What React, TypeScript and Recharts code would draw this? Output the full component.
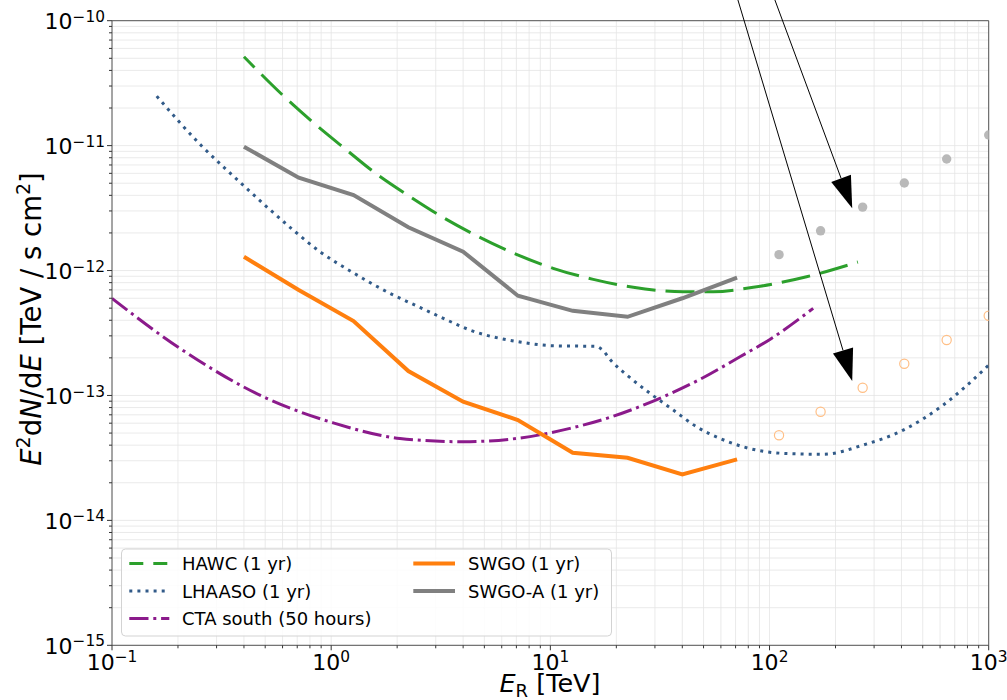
import React from 'react';
import { ComposedChart, Line, Scatter, XAxis, YAxis, CartesianGrid, ReferenceLine } from 'recharts';

// ---------- data ----------
const hawcE = [0.4, 0.6, 0.83, 1.16, 1.61, 2.29, 3.3, 4.77, 7.0, 10.3, 15.7, 23.9, 40.4, 55.3, 84.3, 147.6, 253];
const hawcF = [5.15e-11, 2.54e-11, 1.525e-11, 9.4e-12, 5.93e-12, 3.9e-12, 2.61e-12, 1.845e-12, 1.349e-12, 1.042e-12, 8.5e-13, 7.34e-13, 6.76e-13, 6.76e-13, 7.34e-13, 8.92e-13, 1.17e-12];

const lhaasoE = [0.16, 0.2006, 0.2566, 0.3277, 0.4, 0.508, 0.671, 0.889, 1.261, 1.854, 2.54, 3.37, 4.3, 7.26, 10.3, 16.2, 17.1, 19.0, 23.1, 28.5, 36.4, 46.5, 59.4, 75.9, 115.5, 175.8, 267.6, 407.4, 620, 1000];
const lhaasoF = [2.49e-11, 1.58e-11, 9.93e-12, 6.58e-12, 4.76e-12, 3.24e-12, 2.11e-12, 1.414e-12, 9.6e-13, 6.57e-13, 5.07e-13, 4.02e-13, 3.34e-13, 2.68e-13, 2.5e-13, 2.47e-13, 2.35e-13, 1.886e-13, 1.387e-13, 1.04e-13, 7.64e-14, 5.61e-14, 4.53e-14, 3.88e-14, 3.44e-14, 3.38e-14, 4.01e-14, 5.28e-14, 8.38e-14, 1.75e-13];

const ctaE = [0.1, 0.2043, 0.508, 1.022, 2.06, 4.0, 7.02, 12.29, 19.05, 29.5, 48.1, 73.3, 100.4, 158.2];
const ctaF = [5.99e-13, 2.38e-13, 9.48e-14, 6.04e-14, 4.53e-14, 4.26e-14, 4.53e-14, 5.45e-14, 6.75e-14, 9.02e-14, 1.345e-13, 2.04e-13, 2.81e-13, 4.98e-13];

const swgoE = [0.4, 0.711, 1.265, 2.249, 4.0, 7.11, 12.65, 22.5, 40.0, 71.1];
const swgoF = [1.29e-12, 6.98e-13, 3.94e-13, 1.568e-13, 8.91e-14, 6.36e-14, 3.48e-14, 3.17e-14, 2.33e-14, 3.08e-14];
const swgoAF = [9.8e-12, 5.53e-12, 4.02e-12, 2.22e-12, 1.416e-12, 6.29e-13, 4.76e-13, 4.26e-13, 6.0e-13, 8.76e-13];

const pointE = [110.5, 171, 266, 412, 643, 1000];
const greyPointF = [1.34e-12, 2.08e-12, 3.22e-12, 5.02e-12, 7.81e-12, 1.216e-11];
const orangePointF = [4.8e-14, 7.41e-14, 1.153e-13, 1.795e-13, 2.78e-13, 4.35e-13];

// arrows: [startE, startF, tipE, tipF]
const arrowUpper = [105.8, 1.465e-10, 238.4, 3.15e-12];
const arrowLower = [71.75, 1.465e-10, 238.4, 1.304e-13];

const xMajor = [0.1, 1, 10, 100, 1000];
const yMajor = [1e-15, 1e-14, 1e-13, 1e-12, 1e-11, 1e-10];
const minorMult = [2, 3, 4, 5, 6, 7, 8, 9];

const legendLeft = ['HAWC (1 yr)', 'LHAASO (1 yr)', 'CTA south (50 hours)'];
const legendRight = ['SWGO (1 yr)', 'SWGO-A (1 yr)'];

// ---------- helpers ----------
const zip = (es: number[], fs: number[]) => es.map((e, i) => ({ e, f: fs[i] }));
const withMinor = (majors: number[]) => {
  const out: number[] = [];
  majors.forEach((m, i) => {
    out.push(m);
    if (i < majors.length - 1) minorMult.forEach((k) => out.push(m * k));
  });
  return out;
};
const xTicks = withMinor(xMajor);
const yTicks = withMinor(yMajor);
const isMajor = (v: number) => {
  const l = Math.log10(v);
  return Math.abs(l - Math.round(l)) < 1e-6;
};
const expText = (v: number) => {
  const n = Math.round(Math.log10(v));
  return n < 0 ? '\u2212' + Math.abs(n) : String(n);
};

const FONT = "'DejaVu Sans', sans-serif";
const TICK_COLOR = '#333';
const SPINE = '#555';

const XTick = (p: any) => {
  const { x, y, payload } = p;
  const v = payload.value;
  const maj = isMajor(v);
  return (
    <g>
      <line x1={x} y1={y} x2={x} y2={y + (maj ? 5 : 3)} stroke={TICK_COLOR} strokeWidth={1} />
      {maj && (
        <text x={x} y={y + 25} textAnchor="middle" fontFamily={FONT} fontSize={22} fill="#000">
          10<tspan dy={-8.5} fontSize={15.4}>{expText(v)}</tspan>
        </text>
      )}
    </g>
  );
};

const YTick = (p: any) => {
  const { x, y, payload } = p;
  const v = payload.value;
  const maj = isMajor(v);
  return (
    <g>
      <line x1={x} y1={y} x2={x - (maj ? 5 : 3)} y2={y} stroke={TICK_COLOR} strokeWidth={1} />
      {maj && (
        <text x={x - 7} y={y + 8.6} textAnchor="end" fontFamily={FONT} fontSize={22} fill="#000">
          10<tspan dy={-7.5} fontSize={15.4}>{expText(v)}</tspan>
        </text>
      )}
    </g>
  );
};

const arrowShape = (p: any) => {
  const { x1, y1, x2, y2 } = p;
  const dx = x2 - x1;
  const dy = y2 - y1;
  const L = Math.hypot(dx, dy) || 1;
  const ux = dx / L;
  const uy = dy / L;
  const hl = 32;
  const hw = 10.5;
  const bx = x2 - ux * hl;
  const by = y2 - uy * hl;
  const px = -uy;
  const py = ux;
  return (
    <g>
      <line x1={x1} y1={y1} x2={bx} y2={by} stroke="#000" strokeWidth={1} />
      <polygon
        points={`${x2},${y2} ${bx + px * hw},${by + py * hw} ${bx - px * hw},${by - py * hw}`}
        fill="#000"
      />
    </g>
  );
};

const greyDot = (p: any) => <circle cx={p.cx} cy={p.cy} r={4.7} fill="#b9b9b9" />;
const orangeRing = (p: any) => (
  <circle cx={p.cx} cy={p.cy} r={4.6} fill="none" stroke="#ffbf86" strokeWidth={1.2} />
);

const COLORS = {
  hawc: '#2ca02c',
  lhaaso: '#325b89',
  cta: '#8b1a8b',
  swgo: '#ff7f0e',
  swgoA: '#808080',
};

const HAWC_DASH = '29 10';
const LEG_HAWC_DASH = '14 10';
const LHAASO_DOT = '3 5.1';
const CTA_DASHDOT = '19.2 4.8 3 4.8';

const Overlay = () => {
  const rowY = [563.5, 591, 618.5];
  return (
    <svg
      width={1007}
      height={700}
      style={{ position: 'absolute', left: 0, top: 0, pointerEvents: 'none' }}
    >
      {/* y label */}
      <text
        transform="rotate(-90)"
        x={-319}
        y={41}
        textAnchor="middle"
        fontFamily={FONT}
        fontSize={27.5}
        fill="#000"
      >
        <tspan fontStyle="italic">E</tspan>
        <tspan dy={-11} fontSize={19}>2</tspan>
        <tspan dy={11}>d</tspan>
        <tspan fontStyle="italic">N</tspan>
        <tspan>/d</tspan>
        <tspan fontStyle="italic">E</tspan>
        <tspan> [TeV / s cm</tspan>
        <tspan dy={-11} fontSize={19}>2</tspan>
        <tspan dy={11}>]</tspan>
      </text>
      {/* x label */}
      <text x={550} y={692} textAnchor="middle" fontFamily={FONT} fontSize={25.5} fill="#000">
        <tspan fontStyle="italic">E</tspan>
        <tspan dy={4.5} fontSize={18}>R</tspan>
        <tspan dy={-4.5}> [TeV]</tspan>
      </text>
      {/* legend */}
      <rect x={121.5} y={549} width={490} height={87} rx={4} fill="#fff" fillOpacity={0.85} stroke="#d3d3d3" strokeWidth={1} />
      <line x1={129.3} x2={169.3} y1={rowY[0]} y2={rowY[0]} stroke={COLORS.hawc} strokeWidth={3} strokeDasharray={LEG_HAWC_DASH} />
      <line x1={129.3} x2={169.3} y1={rowY[1]} y2={rowY[1]} stroke={COLORS.lhaaso} strokeWidth={3} strokeDasharray={LHAASO_DOT} />
      <line x1={129.3} x2={169.3} y1={rowY[2]} y2={rowY[2]} stroke={COLORS.cta} strokeWidth={3} strokeDasharray={CTA_DASHDOT} />
      <line x1={413.3} x2={455} y1={rowY[0]} y2={rowY[0]} stroke={COLORS.swgo} strokeWidth={4} />
      <line x1={413.3} x2={455} y1={rowY[1]} y2={rowY[1]} stroke={COLORS.swgoA} strokeWidth={4} />
      {legendLeft.map((t, i) => (
        <text key={t} x={182} y={rowY[i] + 6.6} fontFamily={FONT} fontSize={18} fill="#000">
          {t}
        </text>
      ))}
      {legendRight.map((t, i) => (
        <text key={t} x={468} y={rowY[i] + 6.6} fontFamily={FONT} fontSize={18} fill="#000">
          {t}
        </text>
      ))}
    </svg>
  );
};

export default function App() {
  return (
    <div style={{ position: 'absolute', left: 0, top: 0, width: 1007, height: 700, background: '#fff' }}>
      <ComposedChart width={1007} height={700} margin={{ top: 20.7, right: 18.3, bottom: 0, left: 0 }}>
        <CartesianGrid stroke="#e4e4e4" strokeWidth={0.8} />
        <XAxis
          type="number"
          dataKey="e"
          scale="log"
          domain={[0.1, 1000]}
          allowDataOverflow
          ticks={xTicks}
          interval={0}
          tickSize={0}
          tickMargin={0}
          tickLine={false}
          tick={(p: any) => <XTick {...p} />}
          axisLine={{ stroke: SPINE, strokeWidth: 1 }}
          height={54.7}
        />
        <YAxis
          type="number"
          dataKey="f"
          scale="log"
          domain={[1e-15, 1e-10]}
          allowDataOverflow
          ticks={yTicks}
          interval={0}
          tickSize={0}
          tickMargin={0}
          tickLine={false}
          tick={(p: any) => <YTick {...p} />}
          axisLine={{ stroke: SPINE, strokeWidth: 1 }}
          width={112}
        />
        <ReferenceLine y={1e-10} stroke={SPINE} strokeWidth={1} />
        <ReferenceLine x={1000} stroke={SPINE} strokeWidth={1} />
        <Line data={zip(hawcE, hawcF)} dataKey="f" type="monotone" stroke={COLORS.hawc} strokeWidth={3} strokeDasharray={HAWC_DASH} strokeDashoffset={14} dot={false} isAnimationActive={false} />
        <Line data={zip(lhaasoE, lhaasoF)} dataKey="f" type="monotone" stroke={COLORS.lhaaso} strokeWidth={3} strokeDasharray={LHAASO_DOT} dot={false} isAnimationActive={false} />
        <Line data={zip(ctaE, ctaF)} dataKey="f" type="monotone" stroke={COLORS.cta} strokeWidth={3} strokeDasharray={CTA_DASHDOT} dot={false} isAnimationActive={false} />
        <Line data={zip(swgoE, swgoF)} dataKey="f" type="linear" stroke={COLORS.swgo} strokeWidth={4} dot={false} isAnimationActive={false} />
        <Line data={zip(swgoE, swgoAF)} dataKey="f" type="linear" stroke={COLORS.swgoA} strokeWidth={4} dot={false} isAnimationActive={false} />
        <Scatter data={zip(pointE, greyPointF)} shape={greyDot} isAnimationActive={false} />
        <Scatter data={zip(pointE, orangePointF)} shape={orangeRing} isAnimationActive={false} />
        <ReferenceLine
          segment={[{ x: arrowUpper[0], y: arrowUpper[1] }, { x: arrowUpper[2], y: arrowUpper[3] }]}
          ifOverflow="visible"
          shape={arrowShape}
        />
        <ReferenceLine
          segment={[{ x: arrowLower[0], y: arrowLower[1] }, { x: arrowLower[2], y: arrowLower[3] }]}
          ifOverflow="visible"
          shape={arrowShape}
        />
      </ComposedChart>
      <Overlay />
    </div>
  );
}
